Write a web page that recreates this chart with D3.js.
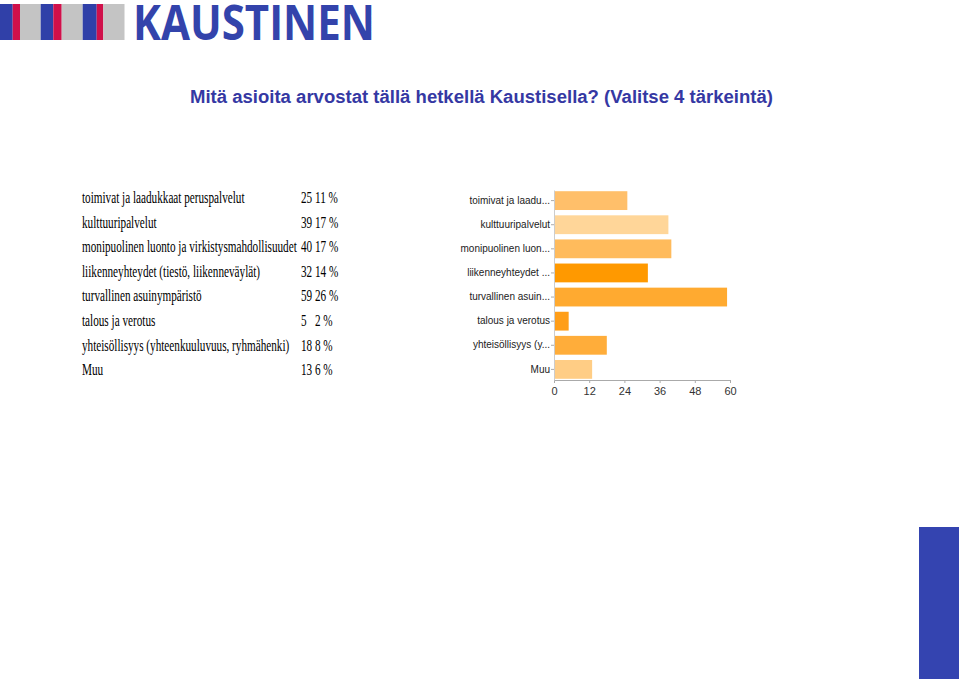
<!DOCTYPE html>
<html>
<head>
<meta charset="utf-8">
<script src="https://cdn.jsdelivr.net/npm/d3@7/dist/d3.min.js"></script>
<style>
  html, body { margin: 0; padding: 0; background: #fff; }
  svg { display: block; }
</style>
</head>
<body>
<script>
// ---- data ----
const categories = [
  "toimivat ja laadukkaat peruspalvelut",
  "kulttuuripalvelut",
  "monipuolinen luonto ja virkistysmahdollisuudet",
  "liikenneyhteydet (tiestö, liikenneväylät)",
  "turvallinen asuinympäristö",
  "talous ja verotus",
  "yhteisöllisyys (yhteenkuuluvuus, ryhmähenki)",
  "Muu"
];
const shortLabels = [
  "toimivat ja laadu...",
  "kulttuuripalvelut",
  "monipuolinen luon...",
  "liikenneyhteydet ...",
  "turvallinen asuin...",
  "talous ja verotus",
  "yhteisöllisyys (y...",
  "Muu"
];
const counts = [25, 39, 40, 32, 59, 5, 18, 13];
const percents = [11, 17, 17, 14, 26, 2, 8, 6];
const barColors = ["#ffbf6a", "#ffd699", "#ffbb5c", "#ff9900", "#ffaa30", "#ff9e18", "#ffad3a", "#ffcd85"];
const xTicks = [0, 12, 24, 36, 48, 60];
const title = "Mitä asioita arvostat tällä hetkellä Kaustisella? (Valitse 4 tärkeintä)";
const logoText = "KAUSTINEN";

const W = 959, H = 679;
const svg = d3.select("body").append("svg").attr("width", W).attr("height", H);

// ---- logo ----
const stripes = [
  [0, 12.7, "#3040a8"], [12.7, 20, "#d0104a"], [20, 40.7, "#c4c4c4"],
  [40.7, 53.3, "#3040a8"], [53.3, 61.7, "#d0104a"], [61.7, 82.7, "#c4c4c4"],
  [82.7, 96.7, "#3040a8"], [96.7, 103.3, "#d0104a"], [103.3, 124.5, "#c4c4c4"]
];
svg.append("g").selectAll("rect").data(stripes).join("rect")
  .attr("x", d => d[0]).attr("y", 4).attr("width", d => d[1] - d[0]).attr("height", 36)
  .attr("fill", d => d[2]);
svg.append("text").attr("x", 133).attr("y", 40)
  .attr("font-family", "Open Sans, Liberation Sans, sans-serif").attr("font-weight", 700)
  .attr("font-size", 49).attr("fill", "#3343ab")
  .attr("textLength", 242).attr("lengthAdjust", "spacingAndGlyphs")
  .text(logoText);

// ---- title ----
svg.append("text").attr("x", 190).attr("y", 103)
  .attr("font-family", "Liberation Sans, Arial, sans-serif").attr("font-weight", 700)
  .attr("font-size", 18).attr("fill", "#3538a3")
  .attr("textLength", 583).attr("lengthAdjust", "spacingAndGlyphs")
  .text(title);

// ---- table ----
const sx = 0.70;
const tbl = svg.append("g").attr("transform", `scale(${sx},1)`)
  .attr("font-family", "Liberation Serif, Times New Roman, serif")
  .attr("font-size", 16).attr("fill", "#000");
const rowY = i => 203 + i * 24.6;
categories.forEach((c, i) => {
  tbl.append("text").attr("x", 82 / sx).attr("y", rowY(i)).text(c);
  const sep = counts[i] < 10 ? "\u2002\u00a0" : "\u00a0";
  tbl.append("text").attr("x", 301 / sx).attr("y", rowY(i))
    .text(counts[i] + sep + percents[i] + "\u00a0%");
});

// ---- bar chart ----
const x = d3.scaleLinear().domain([0, 60]).range([554, 730]);
const y = d3.scaleBand().domain(shortLabels).range([190, 380]).paddingInner(0.22).paddingOuter(0.05);

svg.append("g").selectAll("rect").data(shortLabels).join("rect")
  .attr("x", x(0)).attr("y", d => y(d))
  .attr("width", (d, i) => x(counts[i]) - x(0)).attr("height", y.bandwidth())
  .attr("fill", (d, i) => barColors[i]);

const xAxis = svg.append("g").attr("transform", "translate(0,380)")
  .call(d3.axisBottom(x).tickValues(xTicks).tickSize(3).tickSizeOuter(0));
xAxis.select(".domain").attr("stroke", "#aaa");
xAxis.selectAll(".tick line").attr("stroke", "#aaa");
xAxis.selectAll(".tick text").attr("font-family", "Liberation Sans, Arial, sans-serif")
  .attr("font-size", 11).attr("fill", "#333").attr("dy", "0.8em");

const yAxis = svg.append("g").attr("transform", `translate(${x(0)},0)`)
  .call(d3.axisLeft(y).tickSize(3).tickSizeOuter(0).tickPadding(1));
yAxis.select(".domain").attr("stroke", "#ccc");
yAxis.selectAll(".tick line").attr("stroke", "#aaa");
yAxis.selectAll(".tick text").attr("font-family", "Liberation Sans, Arial, sans-serif")
  .attr("font-size", 10).attr("fill", "#222");

// ---- decorative blue block ----
svg.append("rect").attr("x", 919).attr("y", 527).attr("width", 40).attr("height", 152).attr("fill", "#3444b0");
</script>
</body>
</html>
